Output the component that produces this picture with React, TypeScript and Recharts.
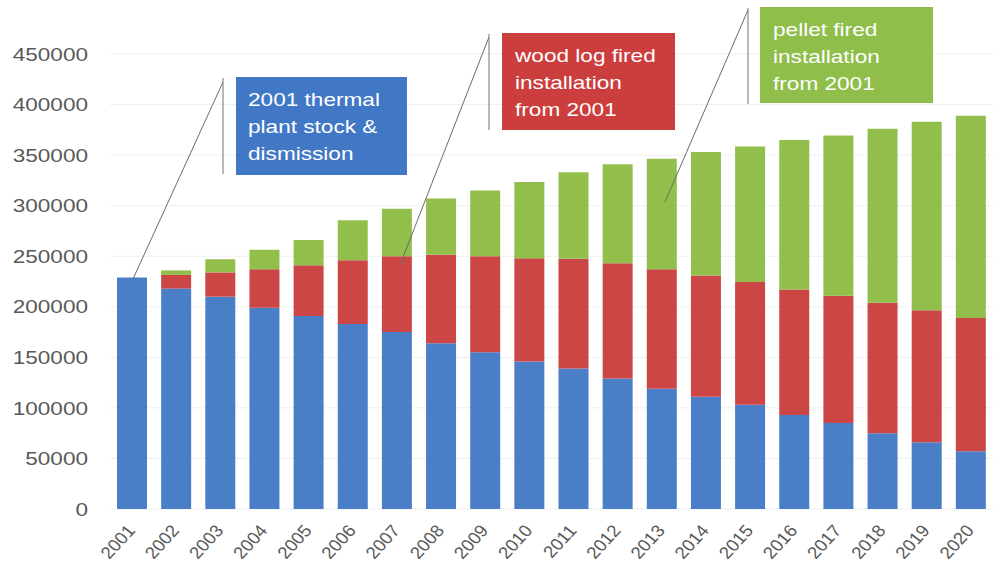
import { Bar, BarChart, CartesianGrid, XAxis, YAxis } from 'recharts';

const YEARS = [
  '2001', '2002', '2003', '2004', '2005', '2006', '2007', '2008', '2009', '2010',
  '2011', '2012', '2013', '2014', '2015', '2016', '2017', '2018', '2019', '2020',
];

// 2001 thermal plant stock & dismission
const STOCK = [
  229000, 218000, 210000, 199000, 191000, 183000, 175000, 164000, 155000, 146000,
  139000, 129000, 119000, 111000, 103000, 93000, 85000, 75000, 66000, 57000,
];

// wood log fired installation from 2001
const WOOD_LOG = [
  0, 13500, 24000, 38000, 50000, 63000, 75000, 87500, 95000, 102000,
  108500, 114000, 118000, 120000, 121500, 124000, 126000, 129000, 130500, 132000,
];

// pellet fired installation from 2001
const PELLET = [
  0, 4500, 13000, 19500, 25000, 39500, 47000, 55500, 65000, 75500,
  85500, 98000, 109500, 122000, 134000, 148000, 158500, 172000, 186500, 200000,
];

const Y_TICKS = [0, 50000, 100000, 150000, 200000, 250000, 300000, 350000, 400000, 450000];

const STOCK_LABEL = ['2001 thermal', 'plant stock &', 'dismission'];
const WOOD_LABEL = ['wood log fired', 'installation', 'from 2001'];
const PELLET_LABEL = ['pellet fired', 'installation', 'from 2001'];

const BLUE = '#4a7fc8';
const RED = '#cc4646';
const GREEN = '#92bf4c';
const FONT = '"Liberation Sans", Arial, sans-serif';

const data = YEARS.map((year, i) => ({
  year,
  stock: STOCK[i],
  woodLog: WOOD_LOG[i],
  pellet: PELLET[i],
}));

const YTick = ({ x, y, payload }: any) => (
  <text
    transform={`translate(${x},${y}) scale(1.22,1)`}
    textAnchor="end"
    dy="0.36em"
    fontSize={18.5}
    fontFamily={FONT}
    fill="#595959"
  >
    {payload.value}
  </text>
);

const XTick = ({ x, y, payload }: any) => (
  <g transform={`translate(${x + 4},${y + 14})`}>
    <text
      transform="scale(1.1,1) rotate(-50)"
      textAnchor="end"
      fontSize={17}
      fontFamily={FONT}
      fill="#595959"
    >
      {payload.value}
    </text>
  </g>
);

type CalloutProps = {
  box: [number, number, number, number];
  accentX: number;
  accent: [number, number];
  leader: [number, number, number, number];
  color: string;
  lines: string[];
  textX: number;
  firstBaseline: number;
};

const Callout = ({ box, accentX, accent, leader, color, lines, textX, firstBaseline }: CalloutProps) => (
  <g>
    <line x1={leader[0]} y1={leader[1]} x2={leader[2]} y2={leader[3]} stroke="#6b6b6b" strokeWidth={1} />
    <line x1={accentX} y1={accent[0]} x2={accentX} y2={accent[1]} stroke="#8a8a8a" strokeWidth={1.2} />
    <rect x={box[0]} y={box[1]} width={box[2]} height={box[3]} fill={color} />
    {lines.map((t, i) => (
      <text
        key={t + i}
        transform={`translate(${textX},${firstBaseline + i * 27}) scale(1.19,1)`}
        fontSize={19}
        fontFamily={FONT}
        fill="#ffffff"
      >
        {t}
      </text>
    ))}
  </g>
);

export default function App() {
  return (
    <div style={{ position: 'absolute', left: 0, top: 0, width: 995, height: 576, background: '#ffffff' }}>
      <BarChart
        width={995}
        height={576}
        data={data}
        margin={{ top: 54, right: 2, bottom: 0, left: 0 }}
        barSize={30}
      >
        <CartesianGrid vertical={false} stroke="#efefef" />
        <XAxis
          dataKey="year"
          height={67}
          axisLine={false}
          tickLine={false}
          interval={0}
          tick={<XTick />}
        />
        <YAxis
          width={110}
          domain={[0, 450000]}
          ticks={Y_TICKS}
          axisLine={false}
          tickLine={false}
          tickMargin={16}
          tick={<YTick />}
        />
        <Bar dataKey="stock" stackId="a" fill={BLUE} isAnimationActive={false} />
        <Bar dataKey="woodLog" stackId="a" fill={RED} isAnimationActive={false} />
        <Bar dataKey="pellet" stackId="a" fill={GREEN} isAnimationActive={false} />
      </BarChart>
      <svg
        width={995}
        height={576}
        style={{ position: 'absolute', left: 0, top: 0, pointerEvents: 'none' }}
      >
        <Callout
          box={[236, 77, 171, 98]}
          accentX={223}
          accent={[78, 174]}
          leader={[133, 279, 223, 82]}
          color="#4178c6"
          lines={STOCK_LABEL}
          textX={248}
          firstBaseline={106}
        />
        <Callout
          box={[502, 33, 173, 97]}
          accentX={489}
          accent={[34, 130]}
          leader={[400, 265, 489, 37]}
          color="#cc3e3e"
          lines={WOOD_LABEL}
          textX={515}
          firstBaseline={62}
        />
        <Callout
          box={[760, 7, 173, 96]}
          accentX={748}
          accent={[8, 104]}
          leader={[665, 202, 748, 10]}
          color="#8fbe4a"
          lines={PELLET_LABEL}
          textX={773}
          firstBaseline={36}
        />
      </svg>
    </div>
  );
}
